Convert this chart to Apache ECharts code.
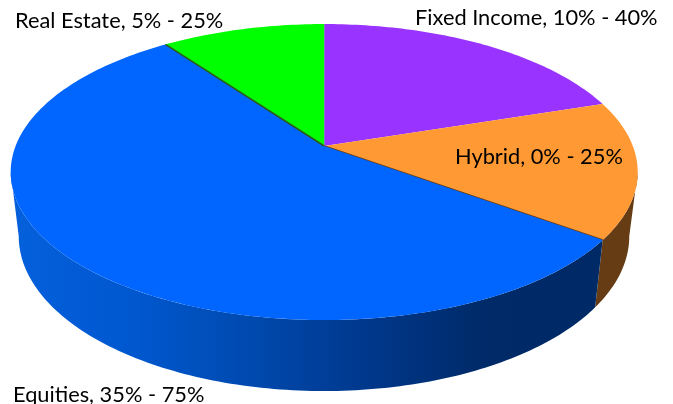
<!DOCTYPE html>
<html>
<head>
<meta charset="utf-8">
<style>
  html, body { margin: 0; background: #fff; }
  #chart { width: 673px; height: 404px; }
</style>
<script src="https://cdn.jsdelivr.net/npm/echarts@6/dist/echarts.min.js"></script>
</head>
<body>
<div id="chart"></div>
<script>
// slices run clockwise from 12 o'clock
const categories = ['Fixed Income', 'Hybrid', 'Equities', 'Real Estate']
const shares = [20, 15, 55, 10]
const rangeLow = [10, 0, 35, 5]
const rangeHigh = [40, 25, 75, 25]

const topColors = ['#9933ff', '#ff9933', '#0066ff', '#00ff00']
const wallStops = [
  [[0, '#5c1f99'], [1, '#5c1f99']],
  [[0, '#663c14'], [1, '#663c14']],
  [[0, '#0560dc'], [0.2, '#0058d0'], [0.4, '#004ab0'], [0.6, '#00388c'], [0.8, '#002a68'], [1, '#002a66']],
  [[0, '#009900'], [1, '#009900']]
]
// dark seam drawn on the edge where a slice meets the equities slice
const seamColors = { 1: '#663c14', 3: '#2c5c14' }
const labelPos = [[415, 18], [455, 157], [13, 395], [15, 21]]

// perspective projection of the unit circle onto the two disc planes
const persp = 0.176
const topDisc = { cx: 324.2, cy: 146, rx: 308.6, ry: 143.4 }
const bottomDisc = { cx: 324, cy: 209, rx: 300.5, ry: 150 }
const total = shares.reduce((a, b) => a + b, 0)
// only this part of the rim faces the viewer, the ends are the silhouette angles
const rimFrom = 90 + Math.asin(persp) * 180 / Math.PI
const rimTo = 360 - rimFrom

function project(disc, deg) {
  const a = deg * Math.PI / 180
  const x = Math.sin(a)
  const y = -Math.cos(a)
  const w = 1 - persp * y
  return [disc.cx + disc.rx * x / w, disc.cy + disc.ry * y / w]
}
function sliceRange(i) {
  let start = 0
  for (let j = 0; j < i; j++) start += shares[j]
  return [start / total * 360, (start + shares[i]) / total * 360]
}
function arc(disc, from, to) {
  const pts = []
  const steps = Math.ceil(to - from)
  for (let s = 0; s <= steps; s++) pts.push(project(disc, from + (to - from) * s / steps))
  return pts
}

function renderWall(params, api) {
  const i = api.value(0)
  const range = sliceRange(i)
  const from = Math.max(range[0], rimFrom)
  const to = Math.min(range[1], rimTo)
  if (to <= from) return null
  const stops = wallStops[i].map(s => ({ offset: s[0], color: s[1] }))
  return {
    type: 'polygon',
    shape: { points: arc(topDisc, from, to).concat(arc(bottomDisc, from, to).reverse()) },
    style: { fill: new echarts.graphic.LinearGradient(0, 0, 1, 0, stops) }
  }
}
function renderTop(params, api) {
  const i = api.value(0)
  const [from, to] = sliceRange(i)
  const apex = [topDisc.cx, topDisc.cy]
  const children = [{
    type: 'polygon',
    shape: { points: [apex].concat(arc(topDisc, from, to)) },
    style: { fill: topColors[i] }
  }]
  if (seamColors[i]) {
    const end = project(topDisc, i === 1 ? to : from)
    children.push({
      type: 'line',
      shape: { x1: apex[0], y1: apex[1], x2: end[0], y2: end[1] },
      style: { stroke: seamColors[i], lineWidth: 1.6 }
    })
  }
  return { type: 'group', children: children }
}
function renderLabel(params, api) {
  const i = api.value(0)
  return {
    type: 'text',
    style: {
      x: labelPos[i][0],
      y: labelPos[i][1],
      text: categories[i] + ', ' + rangeLow[i] + '% - ' + rangeHigh[i] + '%',
      fill: '#000',
      font: '21.8px Lato',
      textVerticalAlign: 'middle'
    }
  }
}

const rows = categories.map((c, i) => [i])
const chart = echarts.init(document.getElementById('chart'))
chart.setOption({
  animation: false,
  backgroundColor: '#fff',
  series: [
    { type: 'custom', coordinateSystem: 'none', data: rows, renderItem: renderWall, silent: true, z: 1 },
    { type: 'custom', coordinateSystem: 'none', data: rows, renderItem: renderTop, silent: true, z: 2 },
    { type: 'custom', coordinateSystem: 'none', data: rows, renderItem: renderLabel, silent: true, z: 3 }
  ]
})
</script>
</body>
</html>
